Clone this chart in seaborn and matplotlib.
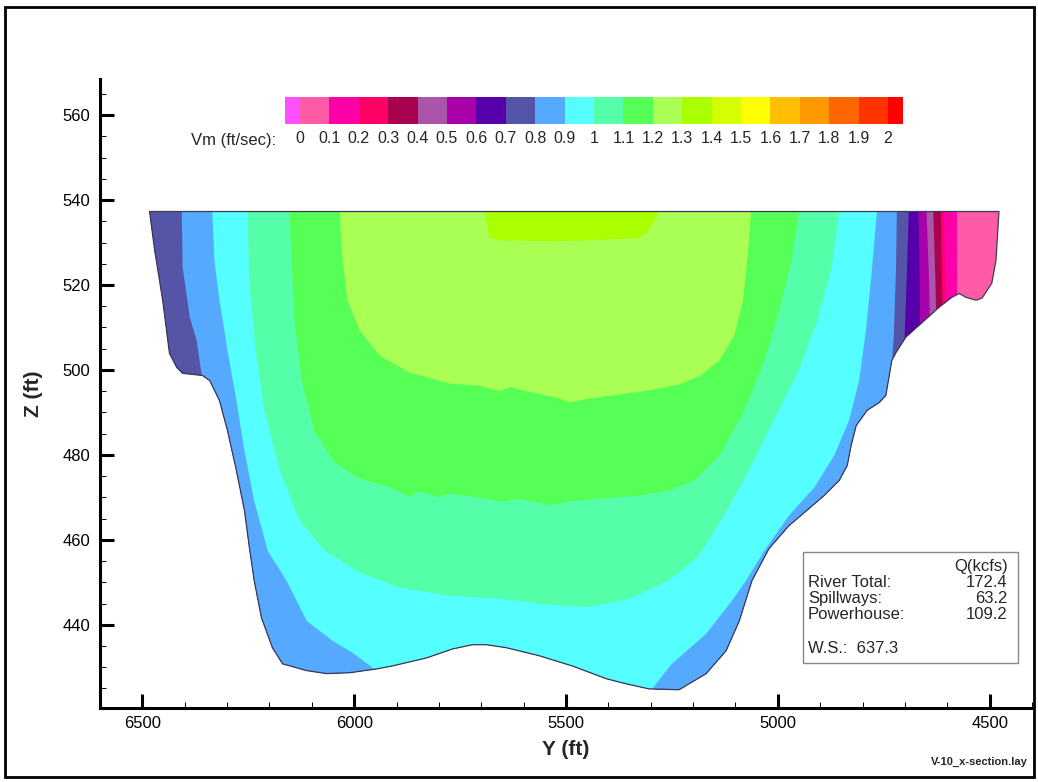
import numpy as np
import pandas as pd
import seaborn as sns
import matplotlib
matplotlib.use("Agg")
import matplotlib.pyplot as plt
from matplotlib.colors import ListedColormap, BoundaryNorm
from matplotlib.patches import Polygon, Rectangle
from matplotlib.ticker import MultipleLocator
import matplotlib.cm as cm

sns.set_theme(style="ticks")
plt.rcParams['font.family'] = ['Liberation Sans', 'DejaVu Sans']

# ---------------- data ----------------
water_surface = 537.3

# river bed / banks, left surface -> right surface
bed_y = [6483, 6471, 6452, 6436, 6419, 6405, 6358, 6341, 6318, 6299, 6278, 6259, 6248, 6236,
         6219, 6193, 6169, 6112, 6065, 6011, 5947, 5910, 5829, 5768, 5721, 5688, 5641, 5563,
         5485, 5405, 5358, 5304, 5233, 5169, 5122, 5091, 5061, 5021, 4974, 4926, 4891, 4855,
         4836, 4827, 4815, 4789, 4761, 4745, 4731, 4721, 4698, 4661, 4620, 4589, 4572, 4556,
         4532, 4518, 4495, 4485, 4478]
bed_z = [537.3, 528.2, 516.4, 503.9, 500.6, 499.2, 498.7, 497.5, 492.8, 485.7, 476.3, 466.9, 458.6, 450.4,
         441.7, 434.6, 430.8, 429.2, 428.5, 428.7, 429.6, 430.3, 432.2, 434.3, 435.3, 435.3, 434.6, 432.7,
         430.3, 427.3, 426.1, 424.9, 424.7, 428.5, 433.9, 440.9, 450.4, 457.9, 463.3, 467.4, 470.4, 474.0,
         477.5, 482.2, 486.9, 490.5, 492.3, 494.0, 502.2, 504.1, 507.7, 511.0, 514.7, 517.1, 518.0, 517.1,
         516.4, 516.9, 520.4, 525.8, 537.3]

# iso-velocity lines (Vm, ft/sec)
# right-bank lines (surface -> bank)
iso01_y = [4577, 4577, 4577]; iso01_z = [537.3, 525.8, 515.2]
iso02_y = [4608, 4606, 4603]; iso02_z = [537.3, 521.1, 514.0]
iso03_y = [4615, 4613, 4610]; iso03_z = [537.3, 521.1, 513.6]
iso04_y = [4633, 4628, 4626]; iso04_z = [537.3, 521.1, 512.1]
iso05_y = [4649, 4643, 4641]; iso05_z = [537.3, 521.1, 510.5]
iso06_y = [4668, 4665, 4664]; iso06_z = [537.3, 521.1, 508.1]
iso07_y = [4691, 4696, 4702]; iso07_z = [537.3, 521.1, 504.6]
# 0.8 : left piece (surface -> bed) and right piece (bed -> surface)
iso08L_y = [6407, 6405, 6388, 6372, 6358]; iso08L_z = [537.3, 524.2, 512.4, 507.0, 497.5]
iso08R_y = [4731, 4726, 4721, 4719]; iso08R_z = [501.1, 508.6, 524.2, 537.3]
# 0.9
iso09L_y = [6335, 6330, 6318, 6299, 6278, 6259, 6236, 6204, 6160, 6112, 6051, 6004, 5940]
iso09L_z = [537.3, 525.8, 516.4, 504.6, 492.8, 481.0, 469.2, 457.4, 450.4, 440.9, 436.2, 433.4, 428.7]
iso09R_y = [5304, 5250, 5169, 5108, 5075, 5032, 4974, 4914, 4867, 4832, 4808, 4792, 4778, 4766]
iso09R_z = [424.0, 430.8, 437.9, 445.7, 450.4, 457.4, 465.7, 472.3, 479.8, 488.1, 497.5, 509.3, 523.5, 537.3]
# closed U-shaped lines (surface -> surface)
iso10_y = [6252, 6248, 6233, 6212, 6176, 6129, 6070, 5987, 5893, 5775, 5657, 5539, 5445, 5350,
           5257, 5186, 5127, 5068, 5009, 4950, 4907, 4874, 4855]
iso10_z = [537.3, 521.1, 504.6, 490.5, 476.3, 464.5, 457.4, 452.3, 448.7, 446.8, 446.1, 444.7, 444.2, 446.1,
           450.4, 456.3, 465.7, 476.3, 488.1, 499.9, 511.7, 523.5, 537.3]
iso11_y = [6153, 6148, 6141, 6124, 6094, 6047, 5987, 5917, 5870, 5846, 5800, 5775, 5704, 5650, 5610,
           5539, 5492, 5422, 5327, 5257, 5197, 5138, 5079, 5032, 4997, 4968, 4950]
iso11_z = [537.3, 525.8, 511.7, 497.5, 485.7, 478.2, 474.4, 472.4, 470.2, 471.4, 470.0, 470.9, 469.9, 469.0, 469.6,
           468.2, 469.0, 469.7, 470.4, 471.6, 474.0, 479.8, 490.5, 502.2, 514.0, 525.8, 537.3]
iso12_y = [6034, 6030, 6016, 5987, 5940, 5870, 5775, 5704, 5657, 5630, 5610, 5563, 5516, 5492, 5445,
           5374, 5304, 5233, 5186, 5138, 5103, 5082, 5070, 5063]
iso12_z = [537.3, 528.2, 516.4, 509.3, 503.4, 499.4, 496.8, 496.3, 495.0, 496.0, 495.4, 494.3, 493.3, 492.3, 493.3,
           494.2, 495.2, 496.6, 498.5, 502.2, 508.1, 516.4, 528.2, 537.3]
iso13_y = [5692, 5681, 5657, 5516, 5327, 5304, 5280]
iso13_z = [537.3, 531.2, 530.5, 530.3, 531.0, 532.9, 537.3]

# legend levels and colours
levels = [0, 0.1, 0.2, 0.3, 0.4, 0.5, 0.6, 0.7, 0.8, 0.9, 1.0,
          1.1, 1.2, 1.3, 1.4, 1.5, 1.6, 1.7, 1.8, 1.9, 2.0]
level_labels = ["0", "0.1", "0.2", "0.3", "0.4", "0.5", "0.6", "0.7", "0.8", "0.9", "1",
                "1.1", "1.2", "1.3", "1.4", "1.5", "1.6", "1.7", "1.8", "1.9", "2"]
band_colors = ["#FF5AA5", "#FF00A8", "#FF0064", "#AA0050", "#AA55AA", "#AA00AA", "#5500AA",
               "#5555A8", "#55AAFF", "#55FFFF", "#55FFAA", "#55FF55", "#AAFF55", "#AAFF00",
               "#D4FF00", "#FFFF00", "#FFBF00", "#FF9900", "#FF6600", "#FF3300"]
under_color = "#FF50FF"
over_color = "#FF0000"

flow_labels = ["River Total:", "Spillways:", "Powerhouse:"]
flow_values = ["172.4", "63.2", "109.2"]
ws_label = "W.S.:  637.3"

# ---------------- figure ----------------
fig = plt.figure(figsize=(10.38, 7.82), dpi=100)
fig.patch.set_facecolor("white")
ax = fig.add_axes([100 / 1038, 74 / 782, 932 / 1038, 629 / 782])
ax.set_facecolor("white")

ZTOP, ZBOT, YFAR = 545.0, 400.0, 6800.0

clip = Polygon(np.column_stack([bed_y, bed_z]), closed=True, transform=ax.transData)


def fill_region(ys, zs, color):
    for p in ax.fill(ys, zs, color=color, linewidth=0, zorder=1):
        p.set_clip_path(clip)


def c(v):
    return band_colors[levels.index(v)]


# base: lowest band in the section
fill_region(bed_y, bed_z, band_colors[0])
# right-bank lines: region with higher velocity lies to the left
for lvl, ly, lz in [(0.1, iso01_y, iso01_z), (0.2, iso02_y, iso02_z), (0.3, iso03_y, iso03_z),
                    (0.4, iso04_y, iso04_z), (0.5, iso05_y, iso05_z), (0.6, iso06_y, iso06_z),
                    (0.7, iso07_y, iso07_z)]:
    ys = list(ly) + [ly[-1], YFAR, YFAR, ly[0]]
    zs = list(lz) + [ZBOT, ZBOT, ZTOP, ZTOP]
    fill_region(ys, zs, c(lvl))
# two-piece lines: region lies between both pieces
for lvl, ly, lz, ry, rz in [(0.8, iso08L_y, iso08L_z, iso08R_y, iso08R_z),
                            (0.9, iso09L_y, iso09L_z, iso09R_y, iso09R_z)]:
    ys = list(ly) + [ly[-1], ry[0]] + list(ry) + [ry[-1], ly[0]]
    zs = list(lz) + [ZBOT, ZBOT] + list(rz) + [ZTOP, ZTOP]
    fill_region(ys, zs, c(lvl))
# closed lines
for lvl, ly, lz in [(1.0, iso10_y, iso10_z), (1.1, iso11_y, iso11_z),
                    (1.2, iso12_y, iso12_z), (1.3, iso13_y, iso13_z)]:
    fill_region(list(ly) + [ly[-1], ly[0]], list(lz) + [ZTOP, ZTOP], c(lvl))

# section outline (bed + water surface)
outline = pd.DataFrame({"Y": bed_y + [bed_y[0]], "Z": bed_z + [bed_z[0]]})
sns.lineplot(data=outline, x="Y", y="Z", sort=False, estimator=None, color="#3a3a55",
             linewidth=0.9, ax=ax, zorder=3)

ax.set_xlim(6600, 4400)
ax.set_ylim(420.4, 568.5)
ax.xaxis.set_major_locator(MultipleLocator(500))
ax.xaxis.set_minor_locator(MultipleLocator(100))
ax.yaxis.set_major_locator(MultipleLocator(20))
ax.yaxis.set_minor_locator(MultipleLocator(5))
for s in ["top", "right"]:
    ax.spines[s].set_visible(False)
for s in ["left", "bottom"]:
    ax.spines[s].set_linewidth(2.2)
    ax.spines[s].set_color("black")
ax.tick_params(which="major", direction="in", length=10, width=2.2, labelsize=12, colors="black")
ax.tick_params(which="minor", direction="in", length=4.5, width=0.7, colors="black")
ax.tick_params(axis="y", which="major", pad=7)
ax.tick_params(axis="x", which="major", pad=6)
ax.set_xlabel("Y (ft)", fontsize=15, fontweight="bold", labelpad=6)
ax.set_ylabel("Z (ft)", fontsize=15, fontweight="bold", labelpad=14)

# flow info box
ax.add_patch(Rectangle((0.7543, 0.0715), 0.2307, 0.1765, transform=ax.transAxes,
                       facecolor="white", edgecolor="#888888", linewidth=1.0, zorder=4))
ax.text(0.974, 0.2242, "Q(kcfs)", transform=ax.transAxes, ha="right", va="center", fontsize=12, zorder=5)
for i, (lab, val) in enumerate(zip(flow_labels, flow_values)):
    yy = 0.2003 - i * 0.0256
    ax.text(0.7597, yy, lab, transform=ax.transAxes, ha="left", va="center", fontsize=12, zorder=5)
    ax.text(0.974, yy, val, transform=ax.transAxes, ha="right", va="center", fontsize=12, zorder=5)
ax.text(0.7597, 0.0938, ws_label, transform=ax.transAxes, ha="left", va="center", fontsize=12, zorder=5)

# colour legend
cmap = ListedColormap(band_colors).with_extremes(under=under_color, over=over_color)
norm = BoundaryNorm(levels, cmap.N)
cax = fig.add_axes([285 / 1038, (782 - 124) / 782, 618 / 1038, 27 / 782])
cb = fig.colorbar(cm.ScalarMappable(norm=norm, cmap=cmap), cax=cax, orientation="horizontal",
                  extend="both", extendrect=True, extendfrac=15 / 588, ticks=levels)
cb.outline.set_visible(False)
cb.ax.set_xticklabels(level_labels)
cb.ax.tick_params(length=0, pad=5, labelsize=11.5)
fig.text(276 / 1038, (782 - 140) / 782, "Vm (ft/sec):", ha="right", va="center", fontsize=12)

# layout file name + page frame
fig.text(1028 / 1038, (782 - 762) / 782, "V-10_x-section.lay", ha="right", va="center",
         fontsize=8, fontweight="bold")
fig.add_artist(Rectangle((5 / 1038, 5 / 782), 1029 / 1038, 770 / 782, transform=fig.transFigure,
                         fill=False, edgecolor="black", linewidth=2.0))

fig.savefig("out.png", dpi=100)
